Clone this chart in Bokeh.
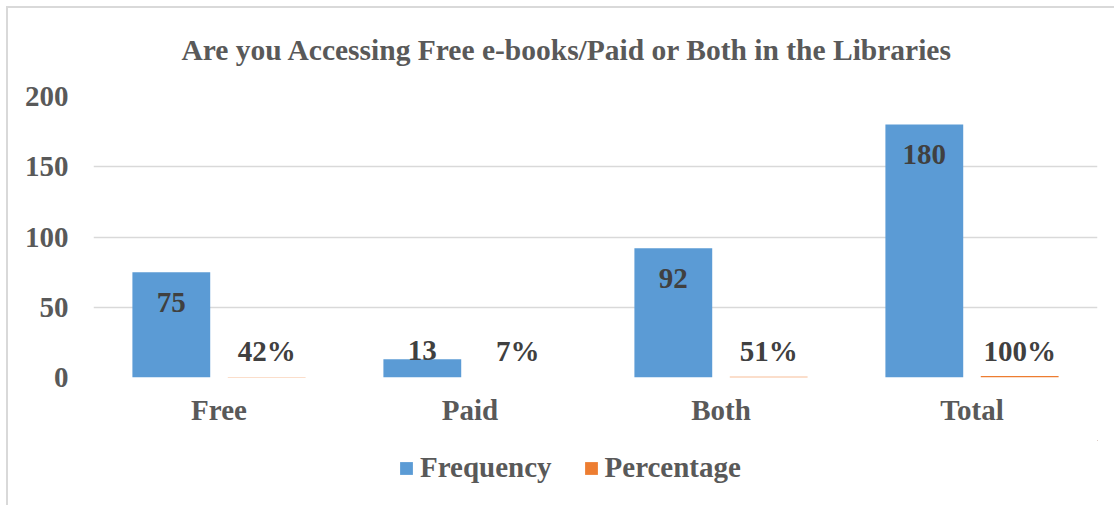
from bokeh.plotting import figure
from bokeh.models import (ColumnDataSource, FactorRange, Range1d, Legend, LegendItem,
                          FixedTicker, Title, Column)
from bokeh.transform import dodge
from bokeh.core.properties import value
from bokeh.embed import file_html
from bokeh.resources import INLINE

# ---- data ----
categories = ["Free", "Paid", "Both", "Total"]
frequency = [75, 13, 92, 180]
percentage = [0.42, 0.07, 0.51, 1.00]
freq_labels = ["75", "13", "92", "180"]
pct_labels = ["42%", "7%", "51%", "100%"]
y_ticks = [0, 50, 100, 150, 200]
series_names = ["Frequency", "Percentage"]
title_text = "Are you Accessing Free e-books/Paid or Both in the Libraries"

FONT = "Liberation Serif"
BLUE = "#5b9bd5"
ORANGE = "#ed7d31"
GRID = "#d9d9d9"
TXT = "#595959"
LBL = "#404040"

# label positions (inside end for frequency, clamped above axis; outside for tiny pct bars)
freq_label_y = [max(v - 21.5, 19) for v in frequency]
pct_label_y = [19 for _ in percentage]

src = ColumnDataSource(dict(cat=categories, freq=frequency, pct=percentage,
                            flab=freq_labels, plab=pct_labels,
                            fy=freq_label_y, py=pct_label_y))

p = figure(x_range=FactorRange(*categories), y_range=Range1d(0, 200),
           frame_width=1004, frame_height=282, output_backend="svg", toolbar_location=None,
           min_border_left=93, min_border_right=17, min_border_top=95,
           min_border_bottom=63)
p.outline_line_color = None
p.background_fill_color = "white"
p.border_fill_alpha = 0

p.title = Title(text=title_text, align="left", text_font=FONT, text_font_size="29.5px",
                text_font_style="bold", text_color=TXT, offset=88, standoff=62)

r1 = p.vbar(x=dodge("cat", -0.19, range=p.x_range), top="freq", width=0.31,
            source=src, fill_color=BLUE, line_color=None)
r2 = p.vbar(x=dodge("cat", 0.19, range=p.x_range), top="pct", width=0.31,
            source=src, fill_color=ORANGE, line_color=None)

p.text(x=dodge("cat", -0.19, range=p.x_range), y="fy", text="flab", source=src,
       text_align="center", text_baseline="middle", text_font=value(FONT),
       text_font_size="29px", text_font_style="bold", text_color=LBL)
p.text(x=dodge("cat", 0.19, range=p.x_range), y="py", text="plab", source=src,
       text_align="center", text_baseline="middle", text_font=value(FONT),
       text_font_size="29px", text_font_style="bold", text_color=LBL)

p.xgrid.visible = False
p.ygrid.grid_line_color = GRID
p.ygrid.grid_line_width = 1.5
p.yaxis.ticker = FixedTicker(ticks=y_ticks)

for ax in (p.xaxis, p.yaxis):
    ax.axis_line_color = None
    ax.major_tick_line_color = None
    ax.minor_tick_line_color = None
    ax.major_label_text_font = FONT
    ax.major_label_text_font_size = "29px"
    ax.major_label_text_font_style = "bold"
    ax.major_label_text_color = TXT
p.yaxis.major_label_standoff = 19
p.xaxis.major_label_standoff = 10

# ---- legend strip below the chart (its bars lie outside its visible ranges) ----
q = figure(x_range=FactorRange(*categories), y_range=Range1d(-2, -1), width=1114, height=65,
           output_backend="svg", toolbar_location=None,
           min_border_left=0, min_border_right=0, min_border_top=0, min_border_bottom=0)
q.axis.visible = False
q.grid.visible = False
q.outline_line_color = None
q.background_fill_alpha = 0
q.border_fill_alpha = 0
k1 = q.vbar(x=dodge("cat", 20, range=q.x_range), top="freq", width=0.31, source=src,
            fill_color=BLUE, line_color=None)
k2 = q.vbar(x=dodge("cat", 20, range=q.x_range), top="pct", width=0.31, source=src,
            fill_color=ORANGE, line_color=None)

legend = Legend(items=[LegendItem(label=series_names[0], renderers=[k1]),
                       LegendItem(label=series_names[1], renderers=[k2])],
                orientation="horizontal", location=(305, 21),
                label_text_font=FONT, label_text_font_size="29px",
                label_text_font_style="bold", label_text_color=TXT,
                glyph_width=16, glyph_height=16, label_standoff=6, spacing=31,
                border_line_color=None, background_fill_alpha=0, margin=0, padding=4)
q.add_layout(legend, "center")

layout = Column(p, q, spacing=0, width=1114, height=505,
                styles={"background": "linear-gradient(#d9d9d9,#d9d9d9) 6px 6px / 1108px 2px no-repeat, "
                                      "linear-gradient(#d9d9d9,#d9d9d9) 6px 6px / 2px 499px no-repeat, white"})

open("out.html", "w").write(file_html(layout, INLINE))
